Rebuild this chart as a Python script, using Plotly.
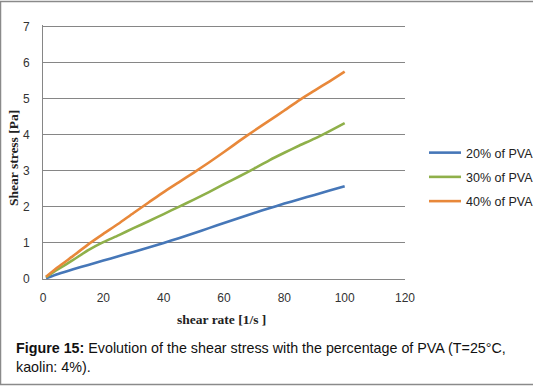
import plotly.graph_objects as go

shear_rate = [1, 5, 10, 15, 20, 25, 30, 35, 40, 45, 50, 55, 60, 65, 70, 75, 80, 85, 90, 95, 100]
pva20 = [0.02, 0.14, 0.27, 0.39, 0.51, 0.63, 0.75, 0.87, 1.00, 1.13, 1.27, 1.41, 1.55, 1.69, 1.83, 1.96, 2.09, 2.21, 2.33, 2.45, 2.57]
pva30 = [0.05, 0.27, 0.53, 0.80, 1.02, 1.21, 1.41, 1.60, 1.80, 2.00, 2.20, 2.41, 2.63, 2.84, 3.06, 3.29, 3.50, 3.70, 3.89, 4.10, 4.32]
pva40 = [0.06, 0.33, 0.64, 0.96, 1.25, 1.53, 1.83, 2.12, 2.41, 2.68, 2.95, 3.23, 3.52, 3.82, 4.11, 4.39, 4.67, 4.96, 5.22, 5.48, 5.75]

series_names = ["20% of PVA", "30% of PVA", "40% of PVA"]
colors = ["#4677B8", "#8FB04A", "#E8883A"]

x_ticks = [0, 20, 40, 60, 80, 100, 120]
y_ticks = [0, 1, 2, 3, 4, 5, 6, 7]

fig = go.Figure()
for i, (name, ys, c) in enumerate(zip(series_names, [pva20, pva30, pva40], colors)):
    fig.add_trace(go.Scatter(
        x=shear_rate, y=ys, mode="lines", name=name,
        line=dict(color=c, width=2.6, shape="spline", smoothing=0.6),
        legendgroup=f"g{i}",
    ))

# plot area: x pixels 43..405, y pixels ~25..279 (value 7 at ~26)
W, H = 533, 388
L, R, T, B = 43, 405, 25, 279
pw, ph = R - L, B - T

def px(xp):
    return (xp - L) / pw

def py(yp):
    return (B - yp) / ph

fig.update_layout(
    width=W, height=H,
    margin=dict(l=L, r=W - R, t=T, b=H - B, autoexpand=False),
    paper_bgcolor="white", plot_bgcolor="white",
    font=dict(family="Liberation Sans, Arial, sans-serif", size=12, color="#333333"),
    showlegend=True,
    legend=dict(
        x=px(424), y=py(177), xanchor="left", yanchor="middle",
        font=dict(family="Liberation Sans, Arial, sans-serif", size=12.5, color="#222222"),
        traceorder="grouped", tracegroupgap=5,
        bgcolor="rgba(0,0,0,0)", itemwidth=32,
    ),
    xaxis=dict(
        range=[0, 120], tickvals=x_ticks, ticktext=[str(v) for v in x_ticks],
        showgrid=False, zeroline=False,
        showline=True, linecolor="#868686", linewidth=1,
        ticks="", ticklabelstandoff=8,
        tickfont=dict(size=12, color="#333333"),
        fixedrange=True,
    ),
    yaxis=dict(
        range=[0, 7.04], tickvals=y_ticks, ticktext=[str(v) for v in y_ticks],
        showgrid=True, gridcolor="#868686", gridwidth=1,
        zeroline=False,
        showline=True, linecolor="#868686", linewidth=1,
        ticks="", ticklabelstandoff=10,
        tickfont=dict(size=12, color="#333333"),
        fixedrange=True,
    ),
    annotations=[
        dict(text="<b>Shear stress [Pa]</b>", xref="paper", yref="paper",
             x=px(13), y=py(158), textangle=-90, showarrow=False,
             xanchor="center", yanchor="middle",
             font=dict(family="Liberation Serif, Times New Roman, serif", size=13.5, color="#222222")),
        dict(text="<b>shear rate [1/s ]</b>", xref="paper", yref="paper",
             x=px(221), y=py(319), showarrow=False,
             xanchor="center", yanchor="middle",
             font=dict(family="Liberation Serif, Times New Roman, serif", size=13.5, color="#222222")),
        dict(text="<b>Figure 15:</b> Evolution of the shear stress with the percentage of PVA (T=25°C,",
             xref="paper", yref="paper", x=px(14), y=py(348), showarrow=False,
             xanchor="left", yanchor="middle",
             font=dict(family="Liberation Sans, Arial, sans-serif", size=14.3, color="#111111")),
        dict(text="kaolin: 4%).",
             xref="paper", yref="paper", x=px(14), y=py(367), showarrow=False,
             xanchor="left", yanchor="middle",
             font=dict(family="Liberation Sans, Arial, sans-serif", size=14.3, color="#111111")),
    ],
    shapes=[
        dict(type="rect", xref="paper", yref="paper",
             x0=px(0.5), x1=px(600), y0=py(384.5), y1=py(1.5),
             line=dict(color="#8a8a8a", width=1.5), fillcolor="rgba(0,0,0,0)", layer="below"),
    ],
)

fig.write_html(
    "out.html",
    config={"displayModeBar": False},
    post_script="document.body.style.margin='0px';document.body.style.padding='0px';",
)
